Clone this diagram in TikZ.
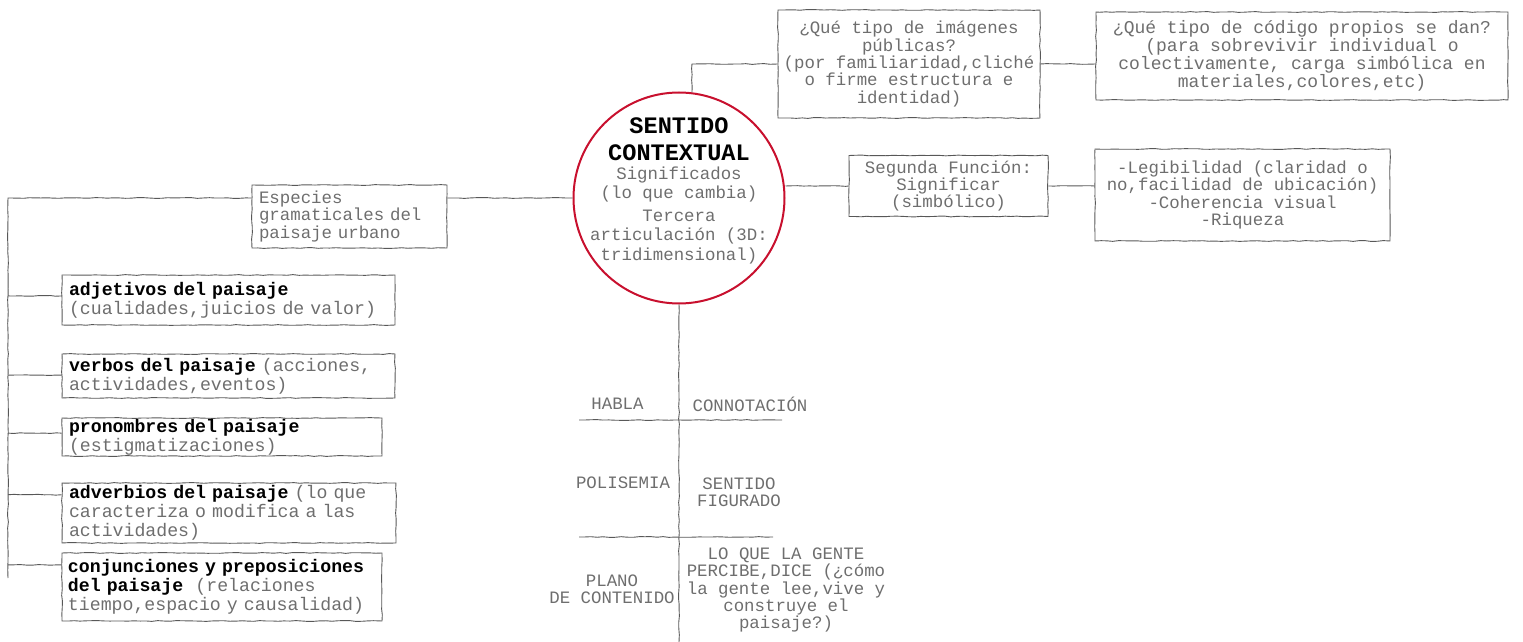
\documentclass[tikz,border=0pt]{standalone}
\usepackage{fontspec}
\setmainfont{Liberation Mono}
\usepackage{tikz}
\usetikzlibrary{positioning,calc,decorations.pathmorphing}
\usepackage{xcolor}
\definecolor{inkgray}{HTML}{6E6E6E}
\definecolor{linegray}{HTML}{585858}
\definecolor{circred}{HTML}{C8102E}
\newcommand{\kw}[1]{\textcolor{black}{\textbf{#1}}}
\newcommand{\hubtitle}[1]{{\fontsize{11.8pt}{12pt}\selectfont\bfseries\color{black}#1}}
\newcommand{\boxfont}{\fontsize{8.7pt}{8.7pt}\selectfont\lineskiplimit-4pt\relax
    \spaceskip=0.6em\relax\frenchspacing}
\newcommand{\codefont}{\fontsize{9pt}{8.9pt}\selectfont\lineskiplimit-4pt\relax
    \spaceskip=0.6em\relax\frenchspacing}
\newcommand{\keyfont}{\fontsize{9.1pt}{9.6pt}\selectfont\lineskiplimit-4pt\relax
    \spaceskip=0.6em\relax\frenchspacing}
\newcommand{\hubfont}{\fontsize{8.7pt}{9.6pt}\selectfont\lineskiplimit-4pt\relax
    \spaceskip=0.6em\relax\frenchspacing}

\begin{document}
\begin{tikzpicture}[x=0.5pt, y=-0.5pt,
    sketch/.style={draw=linegray, line width=0.45pt, decorate,
        decoration={random steps, segment length=3pt, amplitude=0.2pt}},
    txt/.style={text=inkgray, inner sep=0pt, align=center, font=\boxfont},
    box/.style={txt, sketch, inner sep=0pt},
    lbox/.style={box, align=left, inner xsep=3.5pt, text width=#1},
    kbox/.style={lbox=#1, font=\keyfont},
    hub/.style={circle, draw=circred, line width=1pt, minimum size=105.5pt, inner sep=0pt},
    link/.style={sketch}]
    \useasboundingbox (0,0) rectangle (1523,642);

    % centre
    \node[hub] (hub) at (679,198) {};
    \node[txt, font=\hubfont] (hubtext) at (679,191)
        {\hubtitle{SENTIDO}\\[3.5pt]\hubtitle{CONTEXTUAL}\\Significados\\(lo que cambia)\\[2pt]Tercera\\articulación (3D:\\tridimensional)};

    % upper right branch
    \node[box, minimum width=131pt, minimum height=54pt] (imagenes) at (909,64)
        {¿Qué tipo de imágenes\\públicas?\\(por familiaridad,cliché\\o firme estructura e\\identidad)};
    \node[box, minimum width=206pt, minimum height=44pt, font=\codefont] (codigos) at (1302,56)
        {¿Qué tipo de código propios se dan?\\(para sobrevivir individual o\\colectivamente, carga simbólica en\\materiales,colores,etc)};
    \draw[link] (hub.83) |- (imagenes.west);
    \draw[link] (imagenes.east) -- (imagenes.east -| codigos.west);

    % right branch
    \node[box, minimum width=99.5pt, minimum height=30.5pt] (funcion) at (948.5,186)
        {Segunda Función:\\Significar\\(simbólico)};
    \node[box, minimum width=147.5pt, minimum height=46pt] (lectura) at (1242.5,195)
        {-Legibilidad (claridad o\\no,facilidad de ubicación)\\-Coherencia visual\\-Riqueza};
    \draw[link] (funcion.west -| hub.east) -- (funcion.west);
    \draw[link] (funcion.east) -- (funcion.east -| lectura.west);

    % left branch
    \node[lbox=90.5pt, minimum height=31.5pt] (especies) at (349.5,216.5)
        {Especies\\gramaticales del\\paisaje urbano};
    \draw[link] (hub.west) -- (hub.west -| especies.east);
    \coordinate (trunk) at (8,198);
    \coordinate (trunkend) at (8,578);
    \draw[link] (especies.west |- hub.west) -- (trunk) -- (trunkend);

    \node[kbox=159.5pt, minimum height=25pt] (adjetivos) at (228.5,300)
        {\kw{adjetivos del paisaje}\\(cualidades,juicios de valor)};
    \node[kbox=159.5pt, minimum height=22pt] (verbos) at (228.5,376)
        {\kw{verbos del paisaje} (acciones,\\actividades,eventos)};
    \node[kbox=153pt, minimum height=19pt] (pronombres) at (222,437)
        {\kw{pronombres del paisaje}\\(estigmatizaciones)};
    \node[kbox=160pt, minimum height=30pt] (adverbios) at (229,513)
        {\kw{adverbios del paisaje} (lo que\\caracteriza o modifica a las\\actividades)};
    \node[kbox=154pt, minimum height=34pt, inner xsep=3pt] (conjunciones) at (222,587)
        {\kw{conjunciones y preposiciones}\\\kw{del paisaje}\ \ (relaciones\\tiempo,espacio y causalidad)};

    \foreach \n/\f in {adjetivos/0.42, verbos/0.48, pronombres/0.4, adverbios/0.2, conjunciones/0.18} {
        \coordinate (p) at ($(\n.north west)!\f!(\n.south west)$);
        \draw[link] (p -| trunk) -- (p);
    }

    % table under the centre
    \coordinate (tbot) at (679,642);
    \draw[link] (hub.south) -- (tbot);
    \draw[link] (579,420) -- (782,420);
    \draw[link] (579,537) -- (773,537);
    \node[txt] (habla) at (617.5,404) {HABLA};
    \node[txt] (connot) at (750,404) {CONNOTACIÓN};
    \node[txt] (polisemia) at (623,483) {POLISEMIA};
    \node[txt] (figurado) at (739,492) {SENTIDO\\FIGURADO};
    \node[txt] (plano) at (612,589) {PLANO\\DE CONTENIDO};
    \node[txt] (gente) at (786,590) {LO QUE LA GENTE\\PERCIBE,DICE (¿cómo\\la gente lee,vive y\\construye el\\paisaje?)};
\end{tikzpicture}
\end{document}
